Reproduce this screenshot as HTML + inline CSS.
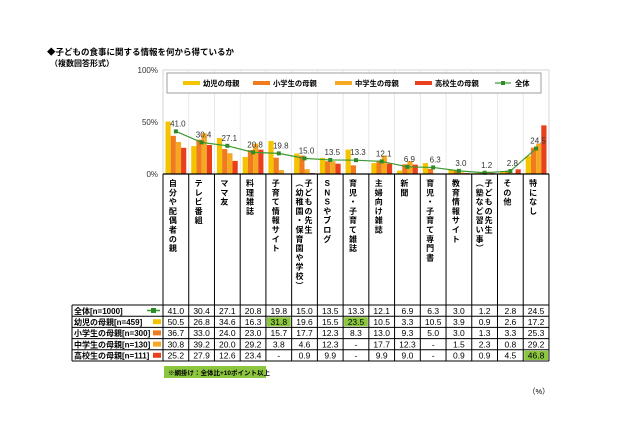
<!DOCTYPE html>
<html><head><meta charset="utf-8">
<style>
body{margin:0;background:#fff;}
svg{display:block;font-family:"Liberation Sans","Noto Sans CJK JP",sans-serif;}
</style></head>
<body>
<svg id="c" width="640" height="426" viewBox="0 0 640 426">
<text x="47" y="55" font-size="8.5" font-weight="bold" fill="#000">◆子どもの食事に関する情報を何から得ているか</text>
<text x="50" y="66" font-size="8" font-weight="bold" fill="#000">（複数回答形式）</text>
</svg>
<script>
const categories=["自分や配偶者の親","テレビ番組","ママ友","料理雑誌","子育て情報サイト","子どもの先生（幼稚園・保育園や学校）","SNSやブログ","育児・子育て雑誌","主婦向け雑誌","新聞","育児・子育て専門書","教育情報サイト","子どもの先生（塾など習い事）","その他","特になし"];
const total=[41.0,30.4,27.1,20.8,19.8,15.0,13.5,13.3,12.1,6.9,6.3,3.0,1.2,2.8,24.5];
const infant=[50.5,26.8,34.6,16.3,31.8,19.6,15.5,23.5,10.5,3.3,10.5,3.9,0.9,2.6,17.2];
const elem=[36.7,33.0,24.0,23.0,15.7,17.7,12.3,8.3,13.0,9.3,5.0,3.0,1.3,3.3,25.3];
const junior=[30.8,39.2,20.0,29.2,3.8,4.6,12.3,null,17.7,12.3,null,1.5,2.3,0.8,29.2];
const high=[25.2,27.9,12.6,23.4,null,0.9,9.9,null,9.9,9.0,null,0.9,0.9,4.5,46.8];
const rowLabels=["全体[n=1000]","幼児の母親[n=459]","小学生の母親[n=300]","中学生の母親[n=130]","高校生の母親[n=111]"];
const yTicks=[0,50,100];
const highlight=[[1,4],[1,7],[4,14]];

const NS="http://www.w3.org/2000/svg";
const svg=document.getElementById('c');
function el(t,a,p){const e=document.createElementNS(NS,t);for(const k in a)e.setAttribute(k,a[k]);(p||svg).appendChild(e);return e;}
const X0=163,CW=25.73,Y0=174,YH=104;
const y=v=>Y0-v/100*YH;
const cx=i=>X0+CW*(i+0.5);
const colors=["#f5c400","#f07a1e","#f7a823","#e8401c"];
const series=[infant,elem,junior,high];

const frame=el('rect',{x:X0,y:y(100),width:CW*15,height:YH,fill:'none',stroke:'#ccc','stroke-width':0.8});

for(let i=1;i<15;i++){const g=el('line',{x1:X0+CW*i,x2:X0+CW*i,y1:y(100),y2:Y0,stroke:'#e4e4e4','stroke-width':0.8});
}
yTicks.forEach(t=>{const tx=el('text',{x:X0-5,y:y(t)+3,'font-size':8,'text-anchor':'end',fill:'#333'});tx.textContent=t+'%';
});

const bw=5.2;
series.forEach((s,si)=>{s.forEach((v,i)=>{if(v==null)return;
const r=el('rect',{x:cx(i)-2*bw+si*bw,y:y(v),width:bw,height:Y0-y(v),fill:colors[si]});
});});

const pts=total.map((v,i)=>cx(i)+','+y(v)).join(' ');
const pl=el('polyline',{points:pts,fill:'none',stroke:'#3a9a30','stroke-width':1.2});

total.forEach((v,i)=>{const m=el('rect',{x:cx(i)-2,y:y(v)-2,width:4,height:4,fill:'#2e8b25'});

const t=el('text',{x:cx(i)+2,y:y(v)-5,'font-size':8,'text-anchor':'middle',fill:'#333'});t.textContent=v.toFixed(1);
});

const lg=el('g',{});
el('rect',{x:167,y:73,width:374,height:20,fill:'#fff',stroke:'#888','stroke-width':0.8},lg);
const lnames=["幼児の母親","小学生の母親","中学生の母親","高校生の母親"];
const lx=[183,253,335,415];
lnames.forEach((n,i)=>{const g=el('g',{},lg);
el('rect',{x:lx[i],y:81,width:17,height:4,fill:colors[i]},g);
const t=el('text',{x:lx[i]+20,y:86,'font-size':7.3,'font-weight':'bold'},g);t.textContent=n;});
{const g=el('g',{},lg);
el('line',{x1:495,x2:511,y1:83,y2:83,stroke:'#3a9a30','stroke-width':1.2},g);
el('rect',{x:501,y:81,width:4,height:4,fill:'#2e8b25'},g);
const t=el('text',{x:515,y:86,'font-size':7.3,'font-weight':'bold'},g);t.textContent='全体';}

el('line',{x1:X0,x2:X0+CW*15,y1:Y0,y2:Y0,stroke:'#000','stroke-width':1.2});
for(let i=0;i<=15;i++)el('line',{x1:X0+CW*i,x2:X0+CW*i,y1:Y0,y2:361,stroke:'#000','stroke-width':1});
categories.forEach((c,i)=>{
 const g=el('g',{});
 const chars=[...c];
 let paren=c.indexOf('（');
 if(paren>0){
  const a=[...c.slice(0,paren)],b=[...c.slice(paren)];
  a.forEach((ch,k)=>{const t=el('text',{x:cx(i)+4,y:186+k*9.3,'font-size':8,'font-weight':'bold','text-anchor':'middle'},g);t.textContent=ch;});
  b.forEach((ch,k)=>{const t=el('text',{x:cx(i)-5,y:186+k*9.3,'font-size':8,'font-weight':'bold','text-anchor':'middle'},g);t.textContent=ch==='（'?'︵':ch==='）'?'︶':ch;});
 }else chars.forEach((ch,k)=>{const t=el('text',{x:cx(i)-3,y:186+k*9.3,'font-size':8,'font-weight':'bold','text-anchor':'middle'},g);t.textContent=ch;});
});

const RH=11.2,RT=305;
const rows=[total,infant,elem,junior,high];
for(let r=0;r<=5;r++)el('line',{x1:72,x2:X0+CW*15,y1:RT+r*RH,y2:RT+r*RH,stroke:'#000','stroke-width':1});
el('line',{x1:72,x2:72,y1:RT,y2:RT+5*RH,stroke:'#000','stroke-width':1});
highlight.forEach(([r,c])=>{const h=el('rect',{x:X0+CW*c+1,y:RT+r*RH+1,width:CW-2,height:RH-2,fill:'#8cc63f'});
});
const swc=["#3a9a30"].concat(colors);
rowLabels.forEach((l,r)=>{const t=el('text',{x:74,y:RT+r*RH+8.8,'font-size':8,'font-weight':'bold'});t.textContent=l;

if(r===0){el('line',{x1:147,x2:160,y1:RT+5.5,y2:RT+5.5,stroke:'#3a9a30','stroke-width':1.5});el('rect',{x:151,y:RT+3,width:5,height:5,fill:'#2e8b25'});}
else el('rect',{x:153,y:RT+r*RH+3,width:8,height:5,fill:swc[r]});
rows[r].forEach((v,i)=>{const t=el('text',{x:cx(i),y:RT+r*RH+8.8,'font-size':8.5,'text-anchor':'middle'});t.textContent=v==null?'-':v.toFixed(1);
});});

const nb=el('rect',{x:164,y:366,width:102,height:12,fill:'#8cc63f'});

const nt=el('text',{x:168,y:375,'font-size':6.5,'font-weight':'bold'});nt.textContent='※網掛け：全体比+10ポイント以上';

const pc=el('text',{x:528,y:394,'font-size':7.5});pc.textContent='（%）';

</script>
</body></html>
